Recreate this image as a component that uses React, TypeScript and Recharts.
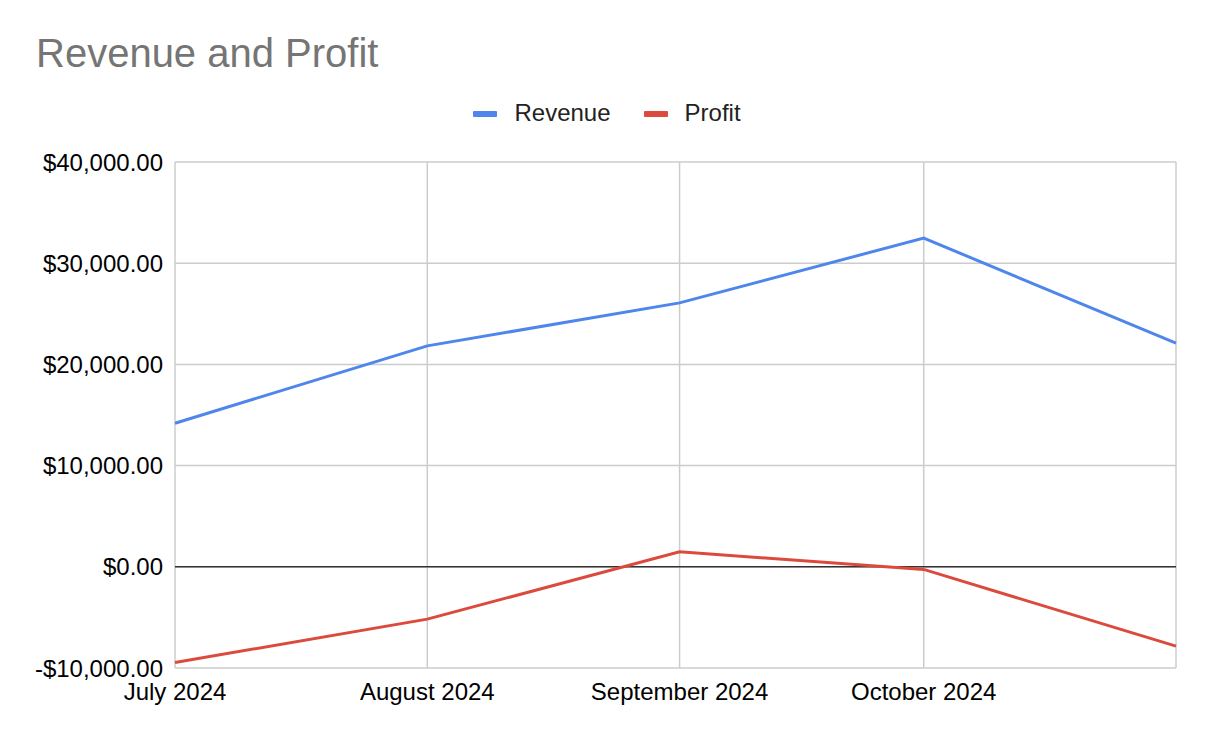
import { CartesianGrid, Line, LineChart, ReferenceLine, XAxis, YAxis } from 'recharts';

const monthDates = ['2024-07-01', '2024-08-01', '2024-09-01', '2024-10-01', '2024-11-01'];
const revenueValues = [14180, 21830, 26080, 32480, 22100];
const profitValues = [-9460, -5170, 1480, -260, -7840];
const yTicks = [-10000, 0, 10000, 20000, 30000, 40000];
const monthNames = ['January', 'February', 'March', 'April', 'May', 'June', 'July', 'August', 'September', 'October', 'November', 'December'];

const FONT = '"Liberation Sans", Arial, Helvetica, sans-serif';
const REVENUE_COLOR = '#4f86ec';
const PROFIT_COLOR = '#db4a3c';

const toTime = (d: string) => Date.parse(d + 'T00:00:00Z');

const data = monthDates.map((d, i) => ({
  date: toTime(d),
  revenue: revenueValues[i],
  profit: profitValues[i],
}));

const xTicks = monthDates.map(toTime);
const lastTick = xTicks[xTicks.length - 1];

function formatMonth(value: number) {
  // the final month boundary only carries a grid line, no label
  if (value === lastTick) {
    return '';
  }
  const d = new Date(value);
  return `${monthNames[d.getUTCMonth()]} ${d.getUTCFullYear()}`;
}

function formatMoney(value: number) {
  const abs = Math.abs(value).toLocaleString('en-US', { minimumFractionDigits: 2, maximumFractionDigits: 2 });
  return value < 0 ? `-$${abs}` : `$${abs}`;
}

const legendItems = [
  { label: 'Revenue', color: REVENUE_COLOR },
  { label: 'Profit', color: PROFIT_COLOR },
];

function ChartLegend() {
  return (
    <div
      style={{
        position: 'absolute',
        left: 0,
        top: 101,
        width: 1214,
        display: 'flex',
        justifyContent: 'center',
        alignItems: 'center',
        gap: 33,
        lineHeight: '24px',
      }}
    >
      {legendItems.map((item) => (
        <div key={item.label} style={{ display: 'flex', alignItems: 'center' }}>
          <span
            style={{
              display: 'inline-block',
              width: 24,
              height: 6,
              borderRadius: 1,
              background: item.color,
              marginRight: 17,
              marginTop: 2,
            }}
          />
          <span style={{ fontFamily: FONT, fontSize: 24, color: '#222' }}>{item.label}</span>
        </div>
      ))}
    </div>
  );
}

export default function App() {
  return (
    <div style={{ position: 'absolute', left: 0, top: 0, width: 1214, height: 742, background: '#fff' }}>
      <div
        style={{
          position: 'absolute',
          left: 36,
          top: 33,
          fontFamily: FONT,
          fontSize: 40,
          lineHeight: '40px',
          color: '#757575',
          whiteSpace: 'nowrap',
        }}
      >
        Revenue and Profit
      </div>
      <ChartLegend />
      <LineChart width={1214} height={742} data={data} margin={{ top: 162, right: 38, bottom: 0, left: 0 }}>
        <CartesianGrid stroke="#cccccc" strokeWidth={1.5} />
        <XAxis
          dataKey="date"
          type="number"
          scale="time"
          domain={[xTicks[0], lastTick]}
          ticks={xTicks}
          tickFormatter={formatMonth}
          tick={{ fill: '#000', fontSize: 24, fontFamily: FONT }}
          axisLine={false}
          tickLine={false}
          tickSize={6}
          tickMargin={9}
          interval={0}
          height={74}
        />
        <YAxis
          domain={[-10000, 40000]}
          ticks={yTicks}
          tickFormatter={formatMoney}
          tick={{ fill: '#000', fontSize: 24, fontFamily: FONT }}
          axisLine={false}
          tickLine={false}
          tickSize={6}
          tickMargin={6}
          width={175}
          interval={0}
        />
        <ReferenceLine y={0} stroke="#333333" strokeWidth={1.5} />
        <Line
          type="linear"
          dataKey="revenue"
          name="Revenue"
          stroke={REVENUE_COLOR}
          strokeWidth={3}
          dot={false}
          activeDot={false}
          isAnimationActive={false}
        />
        <Line
          type="linear"
          dataKey="profit"
          name="Profit"
          stroke={PROFIT_COLOR}
          strokeWidth={3}
          dot={false}
          activeDot={false}
          isAnimationActive={false}
        />
      </LineChart>
    </div>
  );
}
